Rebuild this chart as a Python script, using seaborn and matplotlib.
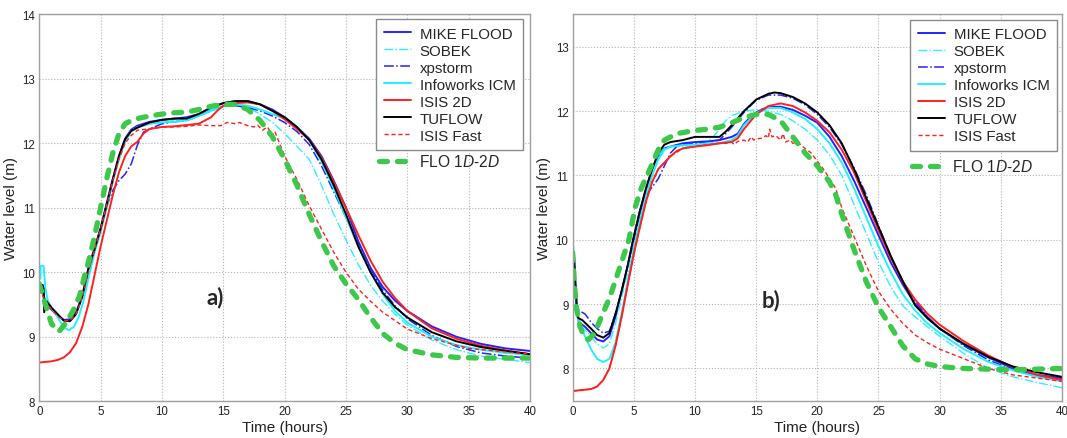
import numpy as np
import pandas as pd
import matplotlib
matplotlib.use("Agg")
import matplotlib.pyplot as plt
import seaborn as sns

# ---------------- data : panel a ----------------
a_mike_t = [0.3,0.4,0.6,1.0,1.5,2.0,2.5,3.0,3.5,4.0,4.5,5.0,5.5,6.0,6.5,7.0,7.5,8.0,9,10,11,12,13,14,15,16,17,18,19,20,21,22,23,24,25,26,27,28,29,30,32,34,36,38,40]
a_mike_y = [9.8,9.55,9.5,9.42,9.33,9.26,9.27,9.38,9.63,10.05,10.37,10.68,11.07,11.45,11.8,12.07,12.21,12.27,12.33,12.36,12.38,12.4,12.45,12.55,12.62,12.65,12.65,12.6,12.52,12.4,12.25,12.07,11.8,11.42,11.0,10.48,10.07,9.77,9.56,9.4,9.16,9.0,8.89,8.82,8.78]

a_sobek_t = [0.3,0.5,1.0,1.5,2.0,2.5,3.0,3.5,4.0,4.5,5.0,5.5,6.0,6.5,7.0,7.5,8,9,10,11,12,13,14,15,16,17,18,19,20,21,22,23,24,25,26,27,28,29,30,32,34,36,38,40]
a_sobek_y = [9.7,9.55,9.42,9.32,9.25,9.25,9.35,9.6,10.02,10.35,10.67,11.05,11.43,11.78,12.05,12.2,12.25,12.3,12.33,12.35,12.38,12.45,12.52,12.57,12.58,12.55,12.45,12.32,12.15,11.95,11.75,11.35,10.9,10.5,10.12,9.8,9.55,9.35,9.18,8.95,8.8,8.7,8.65,8.6]

a_xp_t = [0.3,0.5,1,1.5,2,2.5,3,3.5,4,4.5,5,5.5,6,6.5,7,7.5,8,8.5,9,10,11,12,13,14,15,16,17,18,19,20,21,22,23,24,25,26,27,28,29,30,32,34,36,38,40]
a_xp_y = [9.7,9.55,9.42,9.33,9.26,9.26,9.37,9.62,10.03,10.36,10.68,11.02,11.27,11.42,11.52,11.68,11.97,12.17,12.22,12.3,12.33,12.35,12.42,12.5,12.57,12.58,12.55,12.5,12.42,12.32,12.18,11.98,11.65,11.25,10.85,10.45,10.05,9.72,9.48,9.28,9.02,8.85,8.75,8.7,8.67]

a_info_t = [0.1,0.12,0.35,0.5,0.7,1.0,1.5,2.0,2.4,2.8,3.2,3.6,4.0,4.5,5.0,5.5,6.0,6.5,7.0,7.5,8.0,9,10,11,12,13,14,15,16,17,18,19,20,21,22,23,24,25,26,27,28,29,30,32,34,36,38,40]
a_info_y = [9.9,10.1,10.1,9.75,9.55,9.45,9.3,9.15,9.1,9.15,9.3,9.55,9.9,10.3,10.62,11.0,11.4,11.76,12.03,12.18,12.24,12.3,12.32,12.33,12.35,12.42,12.5,12.57,12.6,12.58,12.52,12.45,12.38,12.25,12.05,11.72,11.3,10.85,10.4,10.0,9.66,9.4,9.22,9.0,8.87,8.8,8.75,8.72]

a_isis_t = [0,0.5,1.0,1.5,2.0,2.5,3.0,3.5,4.0,4.5,5.0,5.5,6.0,6.5,7.0,7.5,8.0,8.5,9,10,11,12,13,14,14.5,15,15.5,16,17,18,19,20,21,22,23,24,25,26,27,28,29,30,32,34,36,38,40]
a_isis_y = [8.6,8.61,8.62,8.64,8.68,8.76,8.9,9.15,9.5,9.95,10.4,10.8,11.2,11.55,11.8,11.95,12.02,12.15,12.22,12.25,12.26,12.28,12.3,12.4,12.5,12.58,12.6,12.62,12.63,12.6,12.5,12.37,12.22,12.05,11.78,11.4,11.0,10.58,10.18,9.85,9.6,9.4,9.13,8.97,8.86,8.79,8.73]

a_tuf_t = [0.25,0.35,0.4,0.6,1.0,1.5,2.0,2.5,3.0,3.5,4.0,4.5,5.0,5.5,6.0,6.5,7.0,7.5,8.0,9,10,11,12,13,14,15,16,17,18,19,20,21,22,23,24,25,26,27,28,29,30,32,34,36,38,40]
a_tuf_y = [9.8,9.75,9.38,9.55,9.45,9.35,9.25,9.24,9.35,9.62,10.05,10.35,10.67,11.05,11.44,11.8,12.06,12.19,12.24,12.32,12.36,12.38,12.38,12.45,12.55,12.62,12.65,12.65,12.6,12.5,12.4,12.25,12.05,11.75,11.35,10.9,10.4,10.0,9.68,9.46,9.3,9.07,8.93,8.84,8.78,8.73]

a_fast_t = [0,0.5,1.0,1.5,2.0,2.5,3.0,3.5,4.0,4.5,5.0,5.5,6.0,6.5,7.0,7.5,8.0,9,10,11,12,13,14,14.8,15.3,16,16.3,17,17.5,17.8,18.2,18.6,19,19.2,20,21,22,23,24,25,26,27,28,30,32,35,40]
a_fast_y = [9.75,9.55,9.42,9.32,9.25,9.25,9.35,9.6,10.0,10.35,10.67,11.05,11.42,11.75,12.0,12.12,12.2,12.22,12.25,12.25,12.26,12.28,12.27,12.27,12.32,12.3,12.32,12.27,12.25,12.28,12.2,12.25,12.12,12.18,11.8,11.44,11.03,10.67,10.31,10.0,9.74,9.55,9.38,9.12,8.97,8.82,8.73]

a_flo_t = [0,0.5,1.0,1.6,2.2,2.8,3.3,3.7,4.0,4.5,5.0,5.5,6.0,6.5,7.0,7.5,8,9,10,11,12,13,14,15,16,17,18,19,20,21,22,23,24,25,26,27,28,29,30,32,34,36,38,40]
a_flo_y = [9.82,9.5,9.2,9.08,9.22,9.42,9.64,9.95,10.15,10.55,11.0,11.45,11.85,12.15,12.3,12.35,12.38,12.42,12.45,12.47,12.48,12.52,12.57,12.6,12.6,12.52,12.35,12.1,11.75,11.35,10.9,10.48,10.1,9.82,9.58,9.3,9.05,8.9,8.8,8.72,8.68,8.67,8.67,8.67]

# ---------------- data : panel b ----------------
b_mike_t = [0.1,0.3,0.5,1.0,1.5,2.0,2.5,3.0,3.5,4.0,4.5,5.0,5.5,6,6.5,7,7.5,8,9,10,11,12,13,13.5,14,14.5,15,15.5,16,17,18,19,20,21,22,23,24,25,26,27,28,29,30,32,34,36,38,40]
b_mike_y = [9.8,9.0,8.72,8.65,8.55,8.45,8.42,8.5,8.8,9.2,9.6,10.05,10.45,10.8,11.1,11.3,11.42,11.45,11.5,11.52,11.53,11.55,11.6,11.65,11.8,11.9,11.98,12.03,12.06,12.07,12.02,11.93,11.82,11.6,11.3,10.92,10.5,10.07,9.65,9.3,9.0,8.8,8.62,8.37,8.17,8.0,7.9,7.85]

b_sobek_t = [0.1,0.3,0.5,1,1.5,2,2.5,3,3.5,4,4.5,5,5.5,6,6.5,7,7.5,8,9,10,10.5,11,11.5,12,12.5,13,14,15,16,17,18,19,20,21,22,23,24,25,26,27,28,29,30,32,34,36,38,40]
b_sobek_y = [9.8,9.0,8.7,8.6,8.5,8.38,8.32,8.38,8.7,9.1,9.5,9.95,10.4,10.75,11.05,11.3,11.42,11.45,11.45,11.45,11.47,11.52,11.6,11.72,11.85,11.93,12.0,12.02,12.0,11.95,11.85,11.72,11.55,11.32,11.0,10.55,10.1,9.65,9.27,8.97,8.8,8.65,8.5,8.23,8.0,7.87,7.78,7.7]

b_xp_t = [0.1,0.3,0.5,1,1.5,2,2.5,3,3.5,4,4.5,5,5.5,6,6.5,7,7.5,8,8.5,9,10,11,12,12.5,13,14,15,16,17,18,19,20,21,22,23,24,25,26,27,28,29,30,32,34,36,38,40]
b_xp_y = [9.6,9.0,8.9,8.85,8.72,8.62,8.55,8.58,8.85,9.2,9.6,10.0,10.4,10.7,10.82,10.95,11.15,11.35,11.45,11.48,11.5,11.52,11.55,11.65,11.75,11.98,12.17,12.25,12.25,12.2,12.1,11.95,11.75,11.48,11.12,10.7,10.22,9.75,9.35,9.05,8.8,8.62,8.35,8.13,7.98,7.88,7.82]

b_info_t = [0.05,0.2,0.5,1.0,1.5,2.0,2.5,3.0,3.5,4.0,4.5,5.0,5.5,6,6.5,7,7.5,8,9,10,11,12,13,13.5,14,15,16,17,18,19,20,21,22,23,24,25,26,27,28,29,30,32,34,36,38,40]
b_info_y = [9.9,9.3,8.75,8.5,8.3,8.15,8.1,8.15,8.4,8.85,9.35,9.85,10.3,10.7,11.0,11.25,11.4,11.45,11.47,11.48,11.5,11.5,11.55,11.62,11.78,11.97,12.05,12.05,11.98,11.88,11.72,11.5,11.2,10.8,10.35,9.9,9.5,9.15,8.9,8.7,8.55,8.3,8.1,7.97,7.87,7.8]

b_isis_t = [0,1,1.5,2,2.5,3,3.5,4,4.5,5,5.5,6,6.5,7,7.5,8,8.5,9,10,11,12,13,13.5,14,15,16,17,18,19,20,21,22,23,24,25,26,27,28,29,30,32,34,36,38,40]
b_isis_y = [7.65,7.67,7.68,7.72,7.82,8.0,8.35,8.8,9.3,9.78,10.2,10.6,10.9,11.1,11.2,11.3,11.38,11.42,11.45,11.47,11.5,11.52,11.58,11.72,11.95,12.08,12.12,12.08,11.98,11.85,11.67,11.4,11.05,10.6,10.15,9.72,9.35,9.07,8.85,8.68,8.42,8.2,8.02,7.9,7.82]

b_tuf_t = [0.1,0.2,0.4,0.5,0.8,1.5,2.0,2.5,3.0,3.5,4.0,4.5,5.0,5.5,6.0,6.5,7.0,7.5,8,9,10,11,12,12.5,13,14,15,16,16.5,17,18,19,20,21,22,23,24,25,26,27,28,29,30,32,34,36,38,40]
b_tuf_y = [9.8,9.4,8.8,8.78,8.75,8.62,8.52,8.48,8.55,8.85,9.2,9.6,10.05,10.45,10.8,11.1,11.35,11.48,11.52,11.55,11.6,11.6,11.6,11.68,11.78,12.0,12.18,12.27,12.29,12.28,12.22,12.12,11.98,11.78,11.5,11.1,10.65,10.2,9.75,9.35,8.98,8.78,8.62,8.38,8.18,8.03,7.94,7.87]

b_fast_t = [0,1,1.5,2,2.5,3,3.5,4,4.5,5,5.5,6,6.5,7,7.5,8,9,10,11,12,12.5,13,13.2,13.5,14,14.3,14.6,14.8,15,15.5,15.8,16,16.1,16.3,16.6,17,17.2,17.4,17.8,18,18.5,19,19.5,20,20.5,21,21.5,22,23,24,25,26,27,28,29,30,32,34,36,38,40]
b_fast_y = [7.65,7.67,7.68,7.72,7.82,8.0,8.35,8.8,9.3,9.78,10.2,10.6,10.9,11.1,11.2,11.3,11.42,11.45,11.48,11.5,11.5,11.52,11.48,11.53,11.55,11.52,11.6,11.55,11.57,11.58,11.62,11.58,11.72,11.6,11.62,11.55,11.65,11.52,11.55,11.5,11.5,11.42,11.35,11.22,11.1,10.95,10.8,10.5,10.05,9.6,9.2,8.92,8.7,8.52,8.4,8.3,8.15,8.0,7.9,7.85,7.8]

b_flo_t = [0,0.15,0.3,0.6,1.0,1.3,1.8,2.3,2.8,3.2,3.9,4.6,5.1,5.6,6.2,7.0,7.5,8.5,10,11,12,13,14,15,16,17,18,19,20,21,21.5,22,23,24,25,26,27,28,29,30,32,34,36,38,40]
b_flo_y = [9.8,9.3,8.95,8.65,8.47,8.45,8.55,8.78,9.0,9.2,9.6,10.0,10.5,10.8,11.05,11.4,11.55,11.65,11.7,11.72,11.75,11.82,11.9,11.95,11.95,11.85,11.6,11.35,11.15,10.9,10.7,10.4,9.85,9.35,8.95,8.65,8.35,8.15,8.07,8.03,8.0,7.99,7.98,7.99,8.0]

series_names = ["MIKE FLOOD", "SOBEK", "xpstorm", "Infoworks ICM", "ISIS 2D", "TUFLOW", "ISIS Fast", "FLO 1D-2D"]
flo_label = "FLO $\\mathit{1D}$-$\\mathit{2D}$"

panel_a = {
    "MIKE FLOOD": (a_mike_t, a_mike_y), "SOBEK": (a_sobek_t, a_sobek_y),
    "xpstorm": (a_xp_t, a_xp_y), "Infoworks ICM": (a_info_t, a_info_y),
    "ISIS 2D": (a_isis_t, a_isis_y), "TUFLOW": (a_tuf_t, a_tuf_y),
    "ISIS Fast": (a_fast_t, a_fast_y), "FLO 1D-2D": (a_flo_t, a_flo_y),
}
panel_b = {
    "MIKE FLOOD": (b_mike_t, b_mike_y), "SOBEK": (b_sobek_t, b_sobek_y),
    "xpstorm": (b_xp_t, b_xp_y), "Infoworks ICM": (b_info_t, b_info_y),
    "ISIS 2D": (b_isis_t, b_isis_y), "TUFLOW": (b_tuf_t, b_tuf_y),
    "ISIS Fast": (b_fast_t, b_fast_y), "FLO 1D-2D": (b_flo_t, b_flo_y),
}

styles = {
    "MIKE FLOOD":    dict(color="#2323ff", linestyle="-", linewidth=1.4),
    "SOBEK":         dict(color="#30f0ff", linestyle="-.", linewidth=1.0),
    "xpstorm":       dict(color="#2323ff", linestyle="-.", linewidth=1.1),
    "Infoworks ICM": dict(color="#20f0ff", linestyle="-", linewidth=1.4),
    "ISIS 2D":       dict(color="#ff2020", linestyle="-", linewidth=1.4),
    "TUFLOW":        dict(color="#000000", linestyle="-", linewidth=1.4),
    "ISIS Fast":     dict(color="#ff2020", linestyle=(0, (3, 2)), linewidth=1.0),
    "FLO 1D-2D":     dict(color="#3cc84a", linestyle=(0, (1.5, 1.9)), linewidth=3.8,
                          dash_capstyle="round"),
}

sns.set_style("white")
plt.rcParams["font.family"] = ["Liberation Sans", "DejaVu Sans"]
plt.rcParams["mathtext.fontset"] = "custom"
plt.rcParams["mathtext.rm"] = "Liberation Sans"
plt.rcParams["mathtext.it"] = "Liberation Sans:italic"

fig = plt.figure(figsize=(10.67, 4.39), dpi=100)
ax_a = fig.add_axes([0.0368, 0.0836, 0.4599, 0.8822])
ax_b = fig.add_axes([0.5367, 0.0836, 0.4586, 0.8822])

def draw(ax, data, ylim, yticks, tag, tag_xy, leg_anchor, flo_anchor):
    for name in series_names:
        t, y = data[name]
        df = pd.DataFrame({"Time": t, "Level": y})
        sns.lineplot(data=df, x="Time", y="Level", ax=ax, sort=False,
                     estimator=None, legend=False, **styles[name])
    lines = ax.get_lines()
    ax.set_xlim(0, 40)
    ax.set_ylim(*ylim)
    ax.set_xticks(range(0, 41, 5))
    ax.set_yticks(yticks)
    ax.grid(True, linestyle=":", color="#b5b5b5", linewidth=0.8)
    ax.set_axisbelow(True)
    for s in ax.spines.values():
        s.set_color("#a0a0a0")
        s.set_linewidth(1.0)
    ax.tick_params(direction="in", length=3, color="#a0a0a0", labelsize=8.3,
                   labelcolor="#222222", pad=3)
    ax.set_xlabel("Time (hours)", fontsize=11, labelpad=2, color="#222222")
    ax.set_ylabel("Water level (m)", fontsize=11, labelpad=3, color="#222222")
    leg1 = ax.legend(lines[:7], series_names[:7], loc="upper right",
                     bbox_to_anchor=leg_anchor, borderaxespad=0, fontsize=10.8,
                     frameon=True, fancybox=False, framealpha=1,
                     edgecolor="#8a8a8a", labelspacing=0.2, borderpad=0.5,
                     handlelength=1.8, handletextpad=0.6)
    leg1.get_frame().set_linewidth(1.0)
    ax.add_artist(leg1)
    ax.legend([lines[7]], [flo_label], loc="center left", bbox_to_anchor=flo_anchor,
              borderaxespad=0, borderpad=0, frameon=False, fontsize=11.2,
              handlelength=2.0, handletextpad=0.6)
    ax.text(tag_xy[0], tag_xy[1], tag, fontsize=16, fontweight="bold",
            family=["Lato", "DejaVu Sans"], ha="center", va="center")

draw(ax_a, panel_a, (8, 14), range(8, 15), "a)", (14.3, 9.62),
     (0.986, 0.987), (0.692, 0.62))
draw(ax_b, panel_b, (7.49, 13.51), range(8, 14), "b)", (16.2, 9.08),
     (0.990, 0.985), (0.693, 0.607))

fig.savefig("out.png", dpi=100)
